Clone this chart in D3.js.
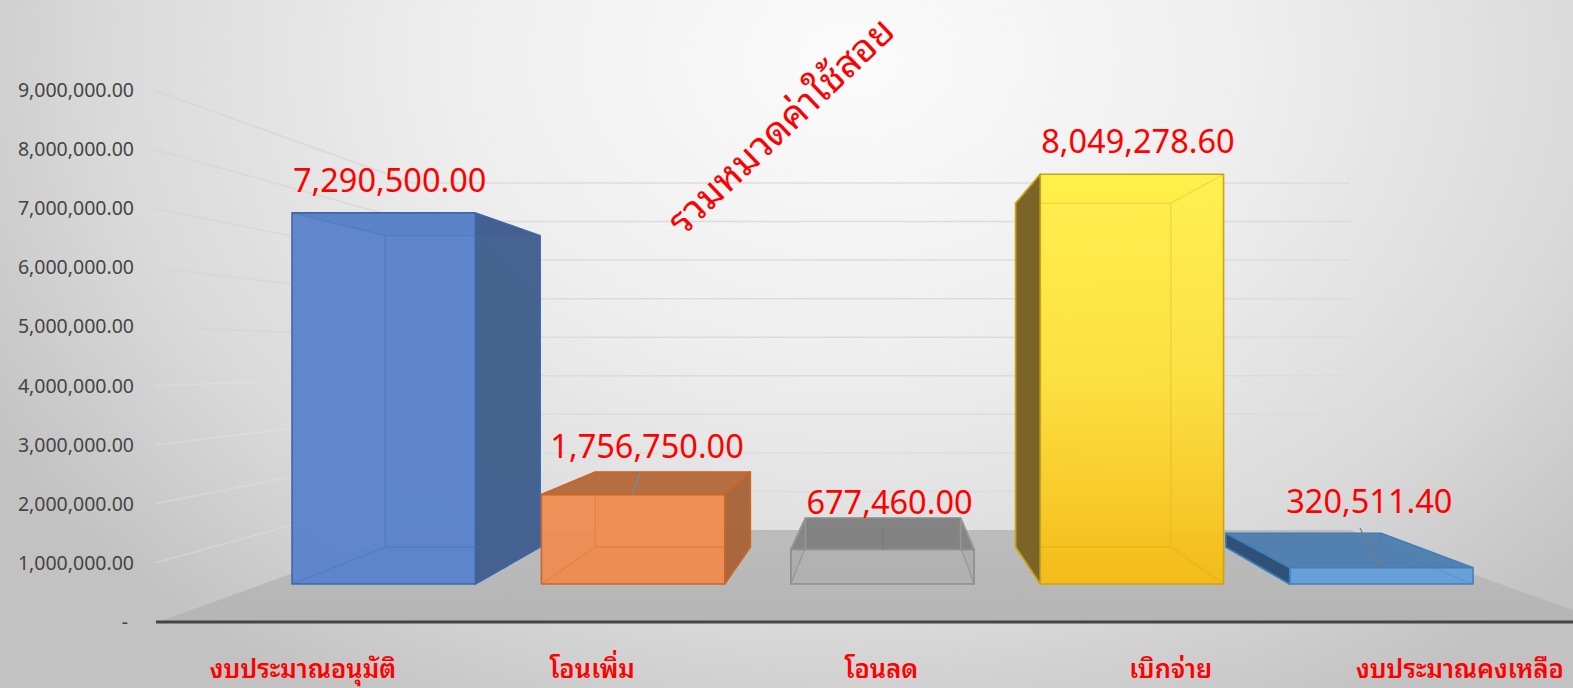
<!DOCTYPE html>
<html><head><meta charset="utf-8">
<script src="https://cdn.jsdelivr.net/npm/d3@7"></script>
<style>html,body{margin:0;padding:0;background:#fff;overflow:hidden}svg{display:block}text{font-family:"Noto Sans Thai Looped","Noto Sans","Noto Sans Thai",sans-serif}</style>
</head><body><svg id="c" width="1573" height="688"></svg>
<script>
const categories = ["งบประมาณอนุมัติ","โอนเพิ่ม","โอนลด","เบิกจ่าย","งบประมาณคงเหลือ"];
const values = [7290500.00,1756750.00,677460.00,8049278.60,320511.40];
const valueLabels = ["7,290,500.00","1,756,750.00","677,460.00","8,049,278.60","320,511.40"];
const axisTicks = [0,1000000,2000000,3000000,4000000,5000000,6000000,7000000,8000000,9000000];
const chartTitle = "รวมหมวดค่าใช้สอย";
const frontFills = ["#5b83ca","#ee8c50","#a9a9a9","url(#gy)","#659fd9"];
const topFills = ["#5b83ca","#b46a3c","#808080","#fff04a","#4f7fae"];
const sideFills = ["#425f8d","#a7643a","#9c9c9c","#7b6428","#2f5277"];
const edges = ["#3f66ad","#c9672a","#8e8e8e","#c9a416","#3f7fbd"];
const frontOp = [0.96,0.94,0.4,0.96,0.97];
const labelDx = [6,14,7,6,-12];
const labelRise = [21,37,36,21,55];

const svg = d3.select("#c");
const W=1573,H=688;
const defs = svg.append("defs");
const bg = defs.append("radialGradient").attr("id","bg").attr("gradientUnits","userSpaceOnUse")
  .attr("cx",0).attr("cy",0).attr("r",1).attr("gradientTransform","translate(850,60) scale(1000,750)");
[[0,"#fbfbfb"],[0.4,"#eeeeee"],[0.75,"#d9d9d9"],[1,"#c2c2c2"]].forEach(d=>bg.append("stop").attr("offset",d[0]).attr("stop-color",d[1]));
const gy = defs.append("linearGradient").attr("id","gy").attr("x1",0).attr("x2",0).attr("y1",0).attr("y2",1);
[[0,"#fff04a"],[0.5,"#fde03c"],[1,"#f5bb14"]].forEach(d=>gy.append("stop").attr("offset",d[0]).attr("stop-color",d[1]));

svg.append("rect").attr("width",W).attr("height",H).attr("fill","url(#bg)");

const yWallFront = d3.scaleLinear().domain([0,9000000]).range([622,90.5]);
const yWallBack = d3.scaleLinear().domain([0,9000000]).range([530,183]);
const yFront = d3.scaleLinear().domain([0,1000000]).range([584,533.1]);
const yBack = d3.scaleLinear().domain([0,1000000]).range([547,504.3]);
const xFront = d3.scaleBand().domain(categories).range([292,1473]).paddingInner(0.265);
const xBack = d3.scaleBand().domain(categories).range([385,1381]).paddingInner(0.262);
const xLabel = d3.scalePoint().domain(categories).range([303,1460]);

const wallL=155, backL=412, backR=1350;
const grid = svg.append("g");
axisTicks.slice(1).forEach(t=>{
  grid.append("line").attr("x1",backL).attr("x2",backR).attr("y1",yWallBack(t)).attr("y2",yWallBack(t))
    .attr("stroke","#dcdcdc").attr("stroke-width",1.5);
  grid.append("line").attr("x1",wallL).attr("x2",backL).attr("y1",yWallFront(t)).attr("y2",yWallBack(t))
    .attr("stroke",t<5000000?"#e6e6e6":"#d6d6d6").attr("stroke-opacity",t<5000000?0.35:0.8).attr("stroke-width",1.6);
});
const floorG = defs.append("linearGradient").attr("id","fl").attr("x1",0).attr("x2",0).attr("y1",0).attr("y2",1);
floorG.append("stop").attr("offset",0).attr("stop-color","#bcbcbc");
floorG.append("stop").attr("offset",1).attr("stop-color","#b5b5b5");
const line = d3.line();
svg.append("path").attr("d",line([[158,622],[backL,530],[backR,530],[W,610],[W,622]])+"Z").attr("fill","url(#fl)");
svg.append("line").attr("x1",156).attr("x2",W).attr("y1",622).attr("y2",622).attr("stroke","#454545").attr("stroke-width",3.2);

const axis = d3.axisLeft(yWallFront).tickValues(axisTicks).tickSize(0).tickPadding(0)
  .tickFormat(d=>d===0?"-":d3.format(",.2f")(d));
const ag = svg.append("g").attr("transform","translate(134,0)").call(axis);
ag.select(".domain").remove();
ag.selectAll("text").attr("fill","#444").style("font-size","19.5px").style("font-family",'"Noto Sans"');
ag.selectAll(".tick").filter(d=>d===0).select("text").attr("dx",-6);

categories.forEach((c,i)=>{
  const v=values[i];
  const fl=xFront(c),fr=fl+xFront.bandwidth(),bl=xBack(c),br=bl+xBack.bandwidth();
  const ft=yFront(v),fb=yFront(0),bt=yBack(v),bb=yBack(0);
  const g=svg.append("g");
  const poly=(pts,fill,op,stroke)=>g.append("path").attr("d",line(pts)+"Z").attr("fill",fill).attr("fill-opacity",op)
     .attr("stroke",stroke||edges[i]).attr("stroke-opacity",stroke==="none"?0:1).attr("stroke-width",1.6).attr("stroke-linejoin","round");
  const solid=frontFills[i]==="url(#gy)"?"#f5bb14":frontFills[i];
  poly([[bl,bt],[br,bt],[br,bb],[bl,bb]],solid,i===2?0.1:0.25,"none");
  poly([[bl,bb],[br,bb],[fr,fb],[fl,fb]],solid,i===2?0.08:0.3,"none");
  poly([[fl,ft],[fr,ft],[br,bt],[bl,bt]],topFills[i],0.97,i===3||i===0?"none":undefined);
  const sideOp=i===2?0.15:0.97;
  if(br>fr) poly([[fr,ft],[br,bt],[br,bb],[fr,fb]],sideFills[i],sideOp,i===2?"#9a9a9a":undefined);
  if(bl<fl) poly([[fl,ft],[bl,bt],[bl,bb],[fl,fb]],sideFills[i],sideOp,i===2?"#9a9a9a":undefined);
  if(i===2){
    poly([[fl,ft],[bl,bt],[bl,bb],[fl,fb]],"#8f8f8f",0.25,"#9a9a9a");
    poly([[fr,ft],[br,bt],[br,bb],[fr,fb]],"#8f8f8f",0.25,"#9a9a9a");
  }
  poly([[fl,ft],[fr,ft],[fr,fb],[fl,fb]],frontFills[i],frontOp[i]);
  const backEdges=line([[bl,bb],[br,bb],[br,bt]])+`M${bl},${bb}L${bl},${bt}L${br},${bt}M${bl},${bb}L${fl},${fb}M${br},${bb}L${fr},${fb}M${fl},${ft}L${bl},${bt}M${fr},${ft}L${br},${bt}`;
  g.append("path").attr("d",backEdges).attr("fill","none").attr("stroke",edges[i]).attr("stroke-opacity",0.3).attr("stroke-width",1.3);
  if(bl<fl) poly([[fl,ft],[bl,bt],[bl,bb],[fl,fb]],sideFills[i],i===3?0.97:sideOp,i===2?"none":undefined);
});

const leaders=[[1,640,473,632,494,"#6f8fa8"],[2,883,528,883,549,"#7a7a7a"],[4,1360,528,1381,568,"#7b7b7b"]];
leaders.forEach(l=>svg.append("line").attr("x1",l[1]).attr("y1",l[2]).attr("x2",l[3]).attr("y2",l[4]).attr("stroke",l[5]).attr("stroke-width",1.2));

svg.append("g").selectAll("text").data(categories).join("text")
  .attr("x",(c,i)=>xFront(c)+xFront.bandwidth()/2+labelDx[i])
  .attr("y",(c,i)=>yFront(values[i])-labelRise[i])
  .attr("text-anchor","middle").attr("fill","#ff0000").style("font-size","32.5px")
  .text((c,i)=>valueLabels[i]);
svg.append("g").selectAll("text").data(categories).join("text")
  .attr("x",c=>xLabel(c)).attr("y",678).attr("text-anchor","middle").attr("fill","#ff0000")
  .style("font-size","25.5px").style("font-weight",600).text(c=>c);
svg.append("text").attr("transform","translate(783,128) rotate(-43.5)").attr("text-anchor","middle").attr("dominant-baseline","middle")
  .attr("fill","#ff0000").style("font-size","38px").text(chartTitle);
</script></body></html>
